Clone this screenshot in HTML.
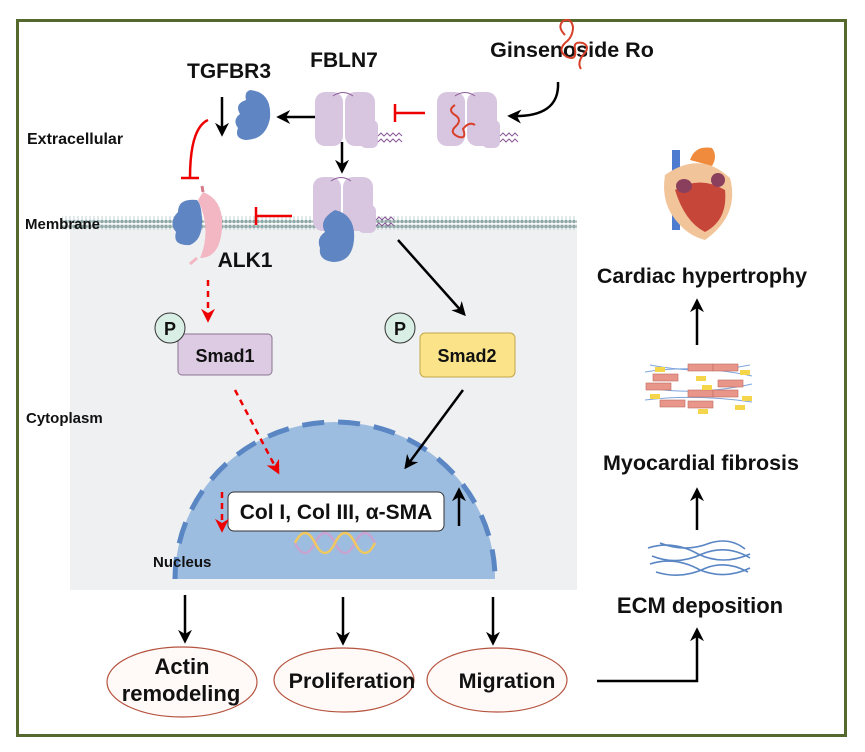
<!DOCTYPE html>
<html><head><meta charset="utf-8"><style>
html,body{margin:0;padding:0;background:#fff}
svg{display:block}
text{font-family:"Liberation Sans",Arial,sans-serif;font-weight:bold;fill:#111}
</style></head><body>
<svg width="865" height="752" viewBox="0 0 865 752" xmlns="http://www.w3.org/2000/svg">
<defs>
<marker id="ab2" viewBox="0 0 10 10" markerWidth="14" markerHeight="14" refX="8" refY="5" orient="auto" markerUnits="userSpaceOnUse"><path d="M0,0 L10,5 L0,10 L3,5 z" fill="#000"/></marker>
<marker id="ar" viewBox="0 0 10 10" markerWidth="14" markerHeight="14" refX="8" refY="5" orient="auto" markerUnits="userSpaceOnUse"><path d="M0,0 L10,5 L0,10 L3,5 z" fill="#e00"/></marker>
<pattern id="mem" width="4" height="14" patternUnits="userSpaceOnUse"><circle cx="2" cy="2.5" r="1.8" fill="#8fa9a8"/><circle cx="2" cy="11.5" r="1.8" fill="#8fa9a8"/><line x1="2" y1="4" x2="2" y2="10" stroke="#b8c8c8" stroke-width="0.8"/></pattern>
</defs>
<rect x="17.5" y="20.5" width="828" height="715" fill="#fff" stroke="#55692f" stroke-width="3"/>
<rect x="70" y="224" width="507" height="366" fill="#eff0f2"/>
<rect x="62" y="216" width="515" height="14" fill="url(#mem)"/>
<path d="M175,579 A160,157 0 0 1 495,579 Z" fill="#9dbde0"/>
<path d="M175,579 A160,157 0 0 1 495,579" fill="none" stroke="#5a86c4" stroke-width="5" stroke-dasharray="22,14"/>
<g fill="none" stroke-width="2.5">
<path d="M295,543 q10,20 20,0 q10,-20 20,0 q10,20 20,0 q10,-20 20,0" stroke="#c9a3cf"/>
<path d="M295,543 q10,-20 20,0 q10,20 20,0 q10,-20 20,0 q10,20 20,0" stroke="#f0c860"/>
</g>
<text x="27" y="144" font-size="16">Extracellular</text>
<text x="25" y="229" font-size="15">Membrane</text>
<text x="26" y="423" font-size="15">Cytoplasm</text>
<text x="153" y="567" font-size="15">Nucleus</text>
<text x="229" y="78" font-size="21" text-anchor="middle">TGFBR3</text>
<text x="344" y="67" font-size="21" text-anchor="middle">FBLN7</text>
<text x="572" y="57" font-size="21.5" text-anchor="middle">Ginsenoside Ro</text>
<text x="245" y="267" font-size="21" text-anchor="middle">ALK1</text>
<path d="M250,90 Q272,92 270,118 Q266,140 245,140 Q234,138 238,128 Q232,120 240,114 Q234,104 246,100 Q244,92 250,90 Z" fill="#5f85c2"/>
<g fill="#d8c6e1">
<rect x="315" y="92" width="28" height="54" rx="10"/>
<rect x="345" y="92" width="30" height="54" rx="10"/>
<rect x="360" y="120" width="18" height="28" rx="6"/>
<rect x="437" y="92" width="28" height="54" rx="10"/>
<rect x="467" y="92" width="30" height="54" rx="10"/>
<rect x="482" y="120" width="18" height="28" rx="6"/>
<rect x="313" y="177" width="28" height="54" rx="10"/>
<rect x="343" y="177" width="30" height="54" rx="10"/>
<rect x="358" y="205" width="18" height="28" rx="6"/>
</g>
<g stroke="#8b5a98" stroke-width="1" fill="none">
<path d="M378,136 l3,-3 l3,3 l3,-3 l3,3 l3,-3 l3,3 l3,-3 l3,3"/><path d="M378,142 l3,-3 l3,3 l3,-3 l3,3 l3,-3 l3,3 l3,-3 l3,3"/>
<path d="M500,136 l3,-3 l3,3 l3,-3 l3,3 l3,-3 l3,3"/><path d="M500,142 l3,-3 l3,3 l3,-3 l3,3 l3,-3 l3,3"/>
<path d="M376,220 l3,-3 l3,3 l3,-3 l3,3 l3,-3 l3,3"/><path d="M376,226 l3,-3 l3,3 l3,-3 l3,3 l3,-3 l3,3"/>
<path d="M333,96 q10,-7 20,0"/><path d="M455,96 q10,-7 20,0"/><path d="M331,181 q10,-7 20,0"/>
</g>
<g fill="none" stroke="#d8402a" stroke-width="2">
<path d="M565,35 q-8,-8 -2,-14 q8,-4 10,6 q0,10 -8,16 q-8,8 2,14 q10,4 8,-8 q-2,-8 8,-6 q8,4 0,12 q-6,8 -2,14"/>
<path d="M455,105 q-8,5 0,10 q8,5 0,12 q-6,6 4,10 q8,2 4,-8 q6,-8 12,-4"/>
</g>
<path d="M335,210 Q356,215 354,240 Q352,262 333,262 Q318,260 320,248 Q316,238 325,232 Q318,220 335,210 Z" fill="#5f85c2"/>
<path d="M197,200 Q178,198 178,212 Q168,222 176,232 Q172,246 190,245 Q202,240 202,222 Q202,205 197,200 Z" fill="#5f85c2"/>
<path d="M203,192 Q224,200 222,228 Q220,258 200,258 Q212,230 198,200 Z" fill="#f2b7c3"/>
<line x1="203" y1="192" x2="202" y2="186" stroke="#d37b8c" stroke-width="3"/>
<line x1="197" y1="258" x2="190" y2="264" stroke="#f2b7c3" stroke-width="3"/>
<rect x="178" y="334" width="94" height="41" rx="4" fill="#dccbe3" stroke="#8a7391"/>
<text x="225" y="362" font-size="18" text-anchor="middle">Smad1</text>
<circle cx="170" cy="328" r="15" fill="#d9eee4" stroke="#333"/>
<text x="170" y="335" font-size="18" text-anchor="middle">P</text>
<rect x="420" y="333" width="95" height="44" rx="5" fill="#fbe38a" stroke="#c4a64a"/>
<text x="467" y="362" font-size="18" text-anchor="middle">Smad2</text>
<circle cx="400" cy="328" r="15" fill="#d9eee4" stroke="#333"/>
<text x="400" y="335" font-size="18" text-anchor="middle">P</text>
<rect x="228" y="492" width="216" height="39" rx="6" fill="#fff" stroke="#333"/>
<text x="336" y="519" font-size="21" text-anchor="middle">Col I, Col III, α-SMA</text>
<g stroke="#000" stroke-width="2.5" fill="none" marker-end="url(#ab2)">
<line x1="222" y1="97" x2="222" y2="134"/>
<line x1="315" y1="117" x2="279" y2="117"/>
<line x1="342" y1="142" x2="342" y2="171"/>
<path d="M558,82 Q560,118 510,116"/>
<line x1="398" y1="240" x2="464" y2="314"/>
<line x1="463" y1="390" x2="406" y2="467"/>
<line x1="459" y1="526" x2="459" y2="490"/>
<line x1="185" y1="595" x2="185" y2="641"/>
<line x1="343" y1="597" x2="343" y2="643"/>
<line x1="493" y1="597" x2="493" y2="643"/>
<line x1="697" y1="345" x2="697" y2="301"/>
<line x1="697" y1="530" x2="697" y2="490"/>
<polyline points="597,681 697,681 697,630"/>
</g>
<g stroke="#e00" stroke-width="2.5" fill="none">
<path d="M208,120 Q190,128 190,178"/><line x1="181" y1="178" x2="199" y2="178"/>
<line x1="292" y1="216" x2="256" y2="216"/><line x1="256" y1="207" x2="256" y2="225"/>
<line x1="425" y1="113" x2="395" y2="113"/><line x1="395" y1="104" x2="395" y2="122"/>
</g>
<g stroke="#e00" stroke-width="2.5" fill="none" stroke-dasharray="6,5" marker-end="url(#ar)">
<line x1="208" y1="280" x2="208" y2="320"/>
<line x1="235" y1="390" x2="278" y2="472"/>
<line x1="222" y1="492" x2="222" y2="530"/>
</g>
<g fill="#fffaf7" stroke="#b5533f" stroke-width="1.2">
<ellipse cx="182" cy="682" rx="75" ry="35"/>
<ellipse cx="344" cy="680" rx="70" ry="32"/>
<ellipse cx="497" cy="680" rx="70" ry="32"/>
</g>
<text x="182" y="674" font-size="22" text-anchor="middle">Actin</text>
<text x="181" y="701" font-size="22" text-anchor="middle">remodeling</text>
<text x="352" y="688" font-size="21.5" text-anchor="middle">Proliferation</text>
<text x="507" y="688" font-size="21.5" text-anchor="middle">Migration</text>
<g>
<path d="M672,150 h8 v80 h-8 z" fill="#4c7bd0"/>
<path d="M690,160 q5,-15 22,-12 q6,8 0,18 z" fill="#f08a3c"/>
<path d="M665,175 Q700,150 730,178 Q740,215 705,240 Q690,236 680,225 Q660,205 665,175 Z" fill="#f2c49a"/>
<path d="M675,190 Q700,175 725,190 Q728,220 705,232 Q685,222 675,190 Z" fill="#c6463a"/>
<ellipse cx="684" cy="186" rx="8" ry="7" fill="#8a3f5c"/>
<ellipse cx="718" cy="180" rx="7" ry="7" fill="#8a3f5c"/>
</g>
<text x="702" y="283" font-size="21.5" text-anchor="middle">Cardiac hypertrophy</text>
<g>
<g stroke="#7ea6dd" stroke-width="1" fill="none">
<path d="M645,372 q50,-8 107,4"/><path d="M648,388 q50,8 104,-4"/><path d="M645,400 q50,-6 107,2"/><path d="M650,365 q50,10 100,0"/>
</g>
<g fill="#e9968a" stroke="#c06a5e" stroke-width="0.6">
<rect x="688" y="364" width="25" height="7"/><rect x="713" y="364" width="25" height="7"/>
<rect x="653" y="374" width="25" height="7"/><rect x="646" y="383" width="25" height="7"/>
<rect x="718" y="380" width="25" height="7"/>
<rect x="688" y="390" width="25" height="7"/><rect x="713" y="390" width="25" height="7"/>
<rect x="660" y="400" width="25" height="7"/><rect x="688" y="401" width="25" height="7"/>
</g>
<g fill="#f5d54a"><rect x="655" y="367" width="10" height="5"/><rect x="696" y="376" width="10" height="5"/><rect x="702" y="385" width="10" height="5"/><rect x="650" y="394" width="10" height="5"/><rect x="742" y="396" width="10" height="5"/><rect x="740" y="370" width="10" height="5"/><rect x="735" y="405" width="10" height="5"/><rect x="698" y="409" width="10" height="5"/></g>
</g>
<text x="701" y="470" font-size="21.5" text-anchor="middle">Myocardial fibrosis</text>
<g stroke="#5a86c4" stroke-width="1.6" fill="none">
<path d="M648,548 q25,-8 50,6 q25,12 52,0"/><path d="M652,556 q25,10 50,-2 q25,-10 48,4"/><path d="M650,564 q25,-8 50,6 q25,10 50,-2"/><path d="M656,572 q25,8 50,-4 q20,-8 42,4"/><path d="M660,543 q25,10 50,0 q20,-6 35,6"/>
</g>
<text x="700" y="613" font-size="22" text-anchor="middle">ECM deposition</text>
</svg>
</body></html>
